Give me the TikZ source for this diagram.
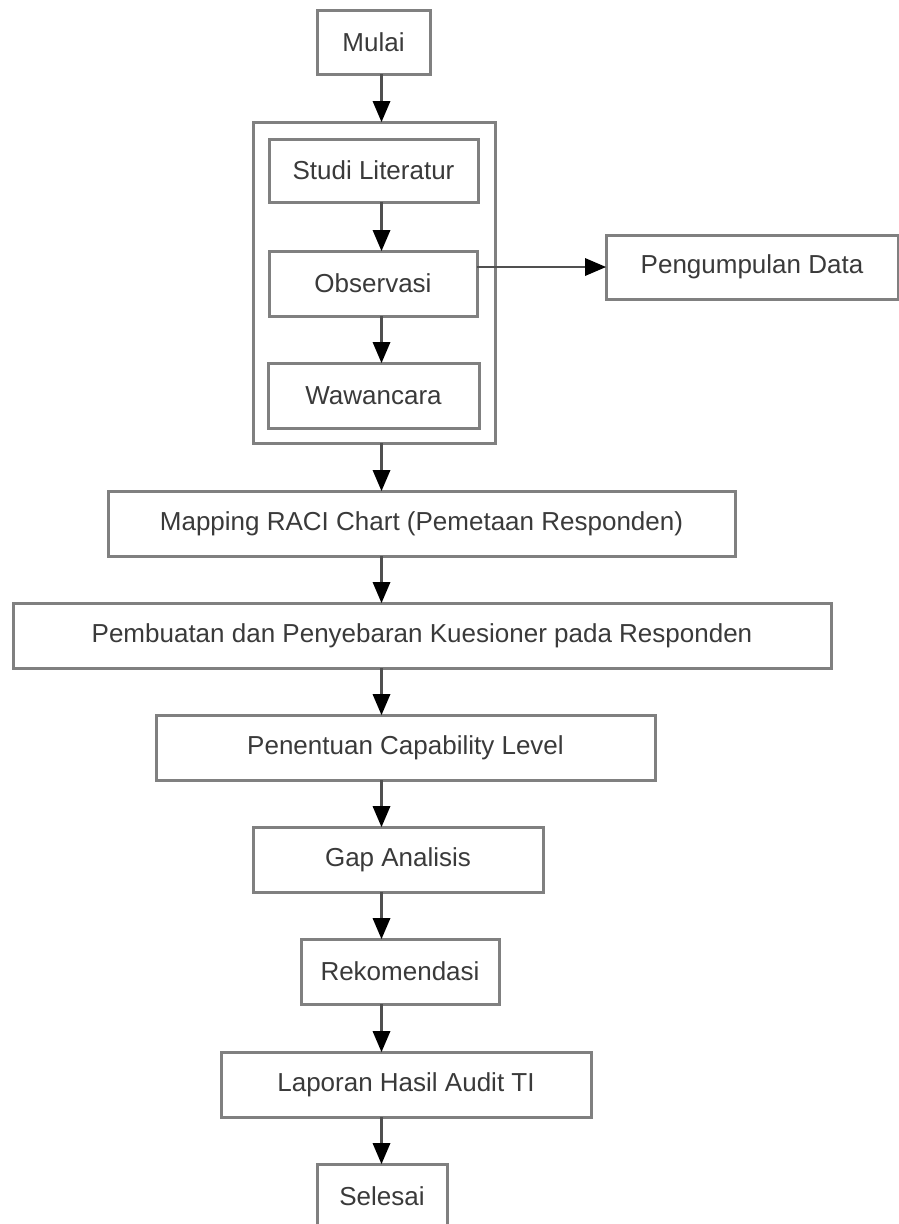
\documentclass[tikz,border=0pt]{standalone}
\usepackage{fontspec}
\setmainfont{Liberation Sans}
\usetikzlibrary{arrows.meta}
\definecolor{boxline}{HTML}{808080}
\definecolor{flowline}{HTML}{505050}
\definecolor{txt}{HTML}{3A3A3A}
\begin{document}
\begin{tikzpicture}[x=1pt,y=-1pt,
  stepbox/.style={draw=boxline, line width=3pt, fill=white, rectangle,
    inner sep=0pt, outer sep=0pt, text=txt, font=\fontsize{26}{30}\selectfont},
  arr/.style={draw=flowline, line width=2.6pt,
    -{Triangle[length=21pt,width=18pt,color=black,fill=black,line width=0pt]}}]
\useasboundingbox (0,0) rectangle (899,1224);
% box helper: name, centre x, centre y, width, height, text
\newcommand{\flowbox}[6]{%
  \node[stepbox, minimum width=#4pt, minimum height=#5pt] (#1) at (#2,#3) {#6};}
% outer frame around the data collection steps
\node[draw=boxline, line width=3pt, rectangle, inner sep=0pt, outer sep=0pt,
  minimum width=242pt, minimum height=321pt] (outer) at (374,282.5) {};
\flowbox{mulai}{373.5}{42}{113}{64}{Mulai}
\flowbox{studi}{373.5}{170.5}{209}{63}{Studi Literatur}
\flowbox{obs}{373}{283.5}{208}{65}{Observasi}
\flowbox{waw}{373.5}{395.5}{211}{65}{Wawancara}
\flowbox{peng}{752}{267}{292}{64}{Pengumpulan Data}
\flowbox{map}{421.5}{523.5}{627}{65}{Mapping RACI Chart (Pemetaan Responden)}
\flowbox{pemb}{422}{635.5}{818}{65}{Pembuatan dan Penyebaran Kuesioner pada Responden}
\flowbox{pen}{405.5}{747.5}{499}{65}{Penentuan Capability Level}
\flowbox{gap}{398}{859.5}{290}{65}{Gap Analisis}
\flowbox{rek}{400}{971.5}{198}{65}{Rekomendasi}
\flowbox{lap}{406}{1084.5}{370}{65}{Laporan Hasil Audit TI}
\flowbox{sel}{382}{1196.5}{130}{65}{Selesai}
% main flow line
\coordinate (spine) at (381.5,0);
\draw[arr] (mulai.south -| spine) -- (outer.north -| spine);
\draw[arr] (studi.south -| spine) -- (obs.north -| spine);
\draw[arr] (obs.south -| spine) -- (waw.north -| spine);
\draw[arr] (outer.south -| spine) -- (map.north -| spine);
\draw[arr] (map.south -| spine) -- (pemb.north -| spine);
\draw[arr] (pemb.south -| spine) -- (pen.north -| spine);
\draw[arr] (pen.south -| spine) -- (gap.north -| spine);
\draw[arr] (gap.south -| spine) -- (rek.north -| spine);
\draw[arr] (rek.south -| spine) -- (lap.north -| spine);
\draw[arr] (lap.south -| spine) -- (sel.north -| spine);
% branch to data collection
\draw[arr] (obs.east |- peng.west) -- (peng.west);
\end{tikzpicture}
\end{document}
